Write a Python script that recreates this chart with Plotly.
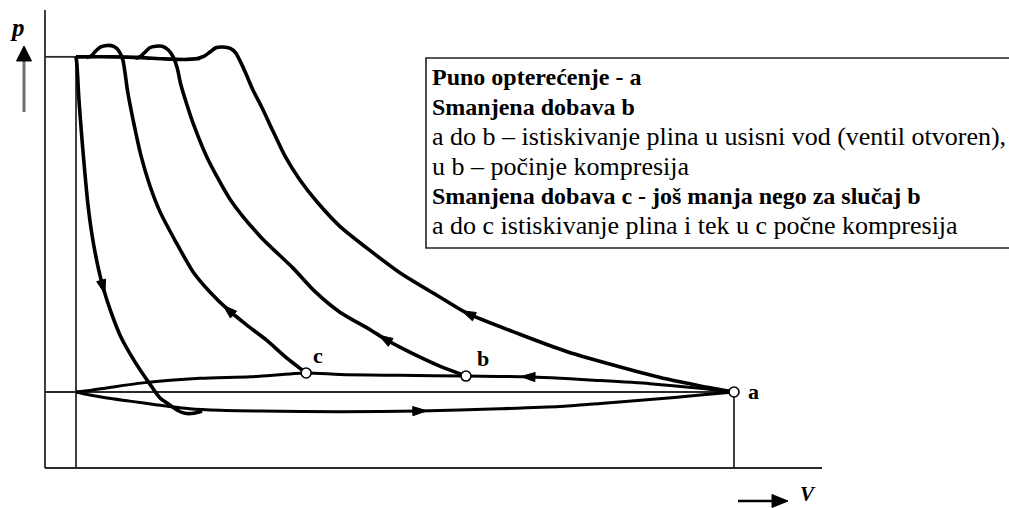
import math
import plotly.graph_objects as go

# ---------------------------------------------------------------
# p-V diagram of a reciprocating compressor with delivery control
# V in % of the swept end volume, p in bar
# ---------------------------------------------------------------
V_CLEARANCE = 4.5
V_END = 100.0
P_SUCTION = 1.0
P_DISCHARGE = 5.41

# compression line starting at a (full load)
comp_a_V = [100.0, 95.1, 90.3, 83.5, 75.8, 68.9, 61.4, 57.3, 51.5, 47.2, 42.8, 39.5,
            37.0, 34.8, 33.1, 31.5, 30.2, 29.2, 28.4, 27.7, 26.9, 25.8, 24.8, 23.9, 23.1, 22.2]
comp_a_p = [1.00, 1.08, 1.17, 1.33, 1.53, 1.76, 2.03, 2.25, 2.57, 2.86, 3.18, 3.50,
            3.79, 4.11, 4.43, 4.74, 4.97, 5.18, 5.34, 5.46, 5.52, 5.54, 5.53, 5.47, 5.42, 5.39]

# compression line starting at b (reduced delivery)
comp_b_V = [61.1, 57.3, 51.5, 49.3, 47.2, 42.8, 39.2, 36.0, 31.2, 26.9, 23.5, 21.6,
            20.6, 19.7, 19.2, 18.6, 17.9, 17.0, 16.1, 15.2, 14.5, 13.8, 13.1]
comp_b_p = [1.21, 1.34, 1.59, 1.70, 1.82, 2.05, 2.32, 2.63, 3.05, 3.53, 4.09, 4.51,
            4.78, 5.05, 5.26, 5.41, 5.50, 5.55, 5.55, 5.53, 5.47, 5.41, 5.39]

# compression line starting at c (further reduced delivery)
comp_c_V = [37.9, 34.8, 32.2, 29.3, 26.6, 23.9, 21.5, 18.9, 16.7, 15.2, 13.9, 12.9,
            12.0, 11.6, 11.3, 10.7, 9.9, 9.0, 8.1, 7.4, 6.7, 6.0]
comp_c_p = [1.25, 1.47, 1.68, 1.88, 2.08, 2.32, 2.58, 2.99, 3.37, 3.72, 4.12, 4.53,
            4.95, 5.21, 5.37, 5.49, 5.55, 5.56, 5.54, 5.49, 5.42, 5.40]

# discharge at constant pressure
disch_V = [4.5, 10.0, 14.0, 17.0, 20.3, 22.5]
disch_p = [5.41, 5.41, 5.40, 5.385, 5.375, 5.39]

# re-expansion of the clearance gas
reexp_V = [4.5, 4.64, 4.93, 5.37, 5.81, 6.24, 6.82, 7.55, 8.42, 9.58, 11.03, 13.1,
           15.1, 16.7, 18.1, 19.2, 20.3, 21.6, 22.8]
reexp_p = [5.41, 5.30, 4.84, 4.32, 3.86, 3.46, 3.07, 2.71, 2.38, 2.05, 1.72, 1.39,
           1.12, 0.92, 0.83, 0.76, 0.72, 0.72, 0.75]

# suction stroke (valve open), clearance -> a
suct_V = [4.5, 6.5, 9.0, 12.3, 16.3, 21.0, 25.4, 31.2, 42.8, 54.4, 66.0, 74.7,
          80.6, 87.8, 95.1, 100.0]
suct_p = [1.00, 0.96, 0.92, 0.88, 0.83, 0.78, 0.76, 0.75, 0.74, 0.75, 0.78, 0.81,
          0.85, 0.90, 0.96, 1.00]

# gas pushed back into the suction line, a -> b -> c -> clearance
back_V = [100.0, 95.1, 87.8, 80.6, 70.1, 61.1, 51.5, 42.8, 37.9, 29.8, 22.5, 14.2,
          9.4, 6.5, 4.5]
back_p = [1.00, 1.05, 1.11, 1.15, 1.20, 1.21, 1.22, 1.23, 1.25, 1.20, 1.18, 1.12,
          1.06, 1.02, 1.00]

# state points
state_labels = ["a", "b", "c"]
state_V = [100.0, 61.1, 37.9]
state_p = [1.00, 1.21, 1.25]

# direction arrows: (curve, vertex index); they point along the curve order
curves = {
    "a": (comp_a_V, comp_a_p),
    "b": (comp_b_V, comp_b_p),
    "c": (comp_c_V, comp_c_p),
    "reexp": (reexp_V, reexp_p),
    "suct": (suct_V, suct_p),
    "back": (back_V, back_p),
}
arrow_marks = [("a", 6), ("b", 3), ("c", 4), ("reexp", 8), ("suct", 9), ("back", 4)]

legend_lines = [
    ("Puno opterećenje - a", True),
    ("Smanjena dobava b", True),
    ("a do b – istiskivanje plina u usisni vod (ventil otvoren),", False),
    ("u b – počinje kompresija", False),
    ("Smanjena dobava c - još manja nego za slučaj b", True),
    ("a do c istiskivanje plina i tek u c počne kompresija", False),
]

# ---------------------------------------------------------------
W, H = 1009, 508
KX = 6.89      # pixels per V unit
KY = 76.0      # pixels per p unit
X_ORIGIN = 45  # pixel column of V = 0
Y_ORIGIN = 468  # pixel row of p = 0
x_range = [-X_ORIGIN / KX, (W - X_ORIGIN) / KX]
y_range = [-(H - Y_ORIGIN) / KY, Y_ORIGIN / KY]

SERIF = "Liberation Serif"

fig = go.Figure()


def add_line(xs, ys, width, color="black", shape="linear"):
    fig.add_trace(go.Scatter(x=xs, y=ys, mode="lines",
                             line=dict(color=color, width=width, shape=shape, smoothing=0.7),
                             hoverinfo="skip", showlegend=False))


# frame lines of the diagram
THIN = "#2a2a2a"
add_line([0, 0], [0, (Y_ORIGIN - 10) / KY], 1.8, THIN)
add_line([0, (822 - X_ORIGIN) / KX], [0, 0], 1.8, THIN)
add_line([0, V_CLEARANCE], [P_DISCHARGE, P_DISCHARGE], 1.8, THIN)
add_line([0, V_END], [P_SUCTION, P_SUCTION], 1.8, THIN)
add_line([V_CLEARANCE, V_CLEARANCE], [0, P_DISCHARGE], 1.8, THIN)
add_line([V_END, V_END], [0, P_SUCTION], 1.8, THIN)

# cycle lines
add_line(suct_V, suct_p, 3.0, shape="spline")
add_line(back_V, back_p, 3.0, shape="spline")
add_line(reexp_V, reexp_p, 3.6, shape="spline")
add_line(disch_V, disch_p, 3.6, shape="spline")
add_line(comp_a_V, comp_a_p, 3.6, shape="spline")
add_line(comp_b_V, comp_b_p, 3.6, shape="spline")
add_line(comp_c_V, comp_c_p, 3.6, shape="spline")

# arrow heads drawn as small filled triangles along the curves
L_PX, HW_PX = 14.0, 4.6
for key, i in arrow_marks:
    xs, ys = curves[key]
    dx = (xs[i + 1] - xs[i - 1]) * KX
    dy = (ys[i + 1] - ys[i - 1]) * KY
    n = math.hypot(dx, dy)
    ux, uy = dx / n, dy / n
    nx, ny = -uy, ux
    cx, cy = xs[i], ys[i]
    tip = (cx + ux * L_PX / 2 / KX, cy + uy * L_PX / 2 / KY)
    b1 = (cx + (-ux * L_PX / 2 + nx * HW_PX) / KX, cy + (-uy * L_PX / 2 + ny * HW_PX) / KY)
    b2 = (cx + (-ux * L_PX / 2 - nx * HW_PX) / KX, cy + (-uy * L_PX / 2 - ny * HW_PX) / KY)
    fig.add_trace(go.Scatter(x=[tip[0], b1[0], b2[0], tip[0]], y=[tip[1], b1[1], b2[1], tip[1]],
                             mode="lines", fill="toself", fillcolor="black",
                             line=dict(color="black", width=1), hoverinfo="skip", showlegend=False))

# state points a, b, c
fig.add_trace(go.Scatter(x=state_V, y=state_p, mode="markers",
                         marker=dict(symbol="circle", size=10, color="white",
                                     line=dict(color="black", width=1.6)),
                         hoverinfo="skip", showlegend=False))

label_shift = {"a": (19, 1), "b": (17, 18), "c": (12, 18)}
for lab, v, p in zip(state_labels, state_V, state_p):
    sx, sy = label_shift[lab]
    fig.add_annotation(x=v, y=p, xref="x", yref="y", text=f"<b>{lab}</b>", showarrow=False,
                       xanchor="center", yanchor="middle",
                       xshift=sx, yshift=sy, font=dict(family=SERIF, size=22, color="black"))


def fx(px):
    return px / W


def fy(py):
    return 1 - py / H


shapes = []
# axis direction arrows
shapes.append(dict(type="line", xref="paper", yref="paper", x0=fx(24), y0=fy(112), x1=fx(24), y1=fy(60),
                   line=dict(color="#707070", width=3)))
shapes.append(dict(type="path", xref="paper", yref="paper",
                   path=f"M{fx(24)},{fy(46)} L{fx(31.5)},{fy(61)} L{fx(16.5)},{fy(61)} Z",
                   fillcolor="black", line=dict(color="black", width=1)))
shapes.append(dict(type="line", xref="paper", yref="paper", x0=fx(738), y0=fy(501), x1=fx(776), y1=fy(501),
                   line=dict(color="black", width=2.5)))
shapes.append(dict(type="path", xref="paper", yref="paper",
                   path=f"M{fx(788)},{fy(501)} L{fx(772)},{fy(494.5)} L{fx(772)},{fy(507.5)} Z",
                   fillcolor="black", line=dict(color="black", width=1)))
# legend frame
shapes.append(dict(type="rect", xref="paper", yref="paper", x0=fx(426), y0=fy(58), x1=fx(1015), y1=fy(248),
                   line=dict(color="#222222", width=1.6), fillcolor="rgba(0,0,0,0)"))
fig.update_layout(shapes=shapes)

fig.add_annotation(x=fx(17), y=fy(27), xref="paper", yref="paper", text="<b><i>p</i></b>",
                   xanchor="center", yanchor="middle",
                   showarrow=False, font=dict(family=SERIF, size=25, color="black"))
fig.add_annotation(x=fx(808), y=fy(494), xref="paper", yref="paper", text="<b><i>V</i></b>",
                   xanchor="center", yanchor="middle",
                   showarrow=False, font=dict(family=SERIF, size=21, color="black"))

line_y = [77.5, 107, 136.5, 166, 195.5, 225]
for (txt, bold), yy in zip(legend_lines, line_y):
    fig.add_annotation(x=fx(430), y=fy(yy), xref="paper", yref="paper",
                       text=f"<b>{txt}</b>" if bold else txt, showarrow=False,
                       xanchor="left", yanchor="middle",
                       font=dict(family=SERIF, size=24 if bold else 26, color="black"))

fig.update_layout(
    width=W, height=H, margin=dict(l=0, r=0, t=0, b=0),
    paper_bgcolor="white", plot_bgcolor="white", showlegend=False,
    xaxis=dict(range=x_range, visible=False, fixedrange=True),
    yaxis=dict(range=y_range, visible=False, fixedrange=True),
)

fig.write_html("out.html", config={"displayModeBar": False})
